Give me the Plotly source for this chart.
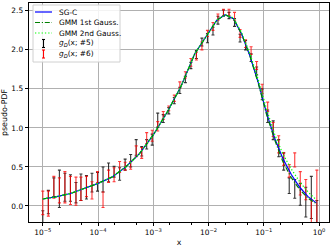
import plotly.graph_objects as go

# ---- data ----
log_x = [-5.00, -4.90, -4.80, -4.70, -4.60, -4.50, -4.40, -4.31, -4.21, -4.11,
         -4.01, -3.91, -3.81, -3.71, -3.61, -3.51, -3.41, -3.31, -3.21, -3.12,
         -3.02, -2.92, -2.82, -2.72, -2.62, -2.52, -2.42, -2.32, -2.22, -2.12,
         -2.02, -1.92, -1.83, -1.73, -1.63, -1.53, -1.43, -1.33, -1.23, -1.13,
         -1.03, -0.93, -0.83, -0.73, -0.64, -0.54, -0.44, -0.34, -0.24, -0.14,
         -0.04]
x_bins = [10 ** v for v in log_x]

g5_val = [-0.18, 0.05, 0.24, 0.22, 0.24, 0.23, 0.17, 0.24, 0.24, 0.30,
          0.31, 0.34, 0.43, 0.44, 0.41, 0.53, 0.58, 0.75, 0.70, 0.79,
          0.85, 1.10, 1.12, 1.22, 1.35, 1.48, 1.62, 1.80, 1.94, 2.10,
          2.15, 2.24, 2.38, 2.47, 2.44, 2.35, 2.15, 2.06, 1.90, 1.73,
          1.43, 1.15, 0.97, 0.74, 0.57, 0.26, 0.22, 0.15, 0.05, 0.11,
          -0.08]
g5_err = [0.12, 0.15, 0.12, 0.24, 0.18, 0.17, 0.13, 0.17, 0.15, 0.12,
          0.12, 0.16, 0.12, 0.07, 0.08, 0.07, 0.08, 0.10, 0.06, 0.06,
          0.07, 0.09, 0.05, 0.04, 0.04, 0.04, 0.04, 0.04, 0.05, 0.05,
          0.06, 0.05, 0.05, 0.04, 0.04, 0.05, 0.05, 0.06, 0.05, 0.05,
          0.07, 0.08, 0.12, 0.11, 0.11, 0.10, 0.12, 0.14, 0.19, 0.27,
          0.15]
g6_val = [0.04, 0.03, 0.24, 0.20, 0.24, 0.20, 0.19, 0.22, 0.25, 0.20,
          0.37, 0.08, 0.38, 0.40, 0.50, 0.51, 0.52, 0.70, 0.68, 0.87,
          0.90, 1.02, 1.16, 1.25, 1.38, 1.55, 1.68, 1.84, 1.92, 2.05,
          2.21, 2.30, 2.42, 2.48, 2.48, 2.43, 2.21, 2.08, 1.99, 1.80,
          1.50, 1.27, 0.98, 0.79, 0.60, 0.45, 0.59, 0.29, 0.21, -0.15,
          0.12]
g6_err = [0.15, 0.16, 0.14, 0.16, 0.20, 0.18, 0.18, 0.15, 0.13, 0.11,
          0.07, 0.10, 0.08, 0.09, 0.07, 0.05, 0.05, 0.07, 0.07, 0.07,
          0.07, 0.06, 0.05, 0.03, 0.04, 0.04, 0.04, 0.05, 0.05, 0.05,
          0.04, 0.05, 0.04, 0.04, 0.04, 0.05, 0.05, 0.05, 0.05, 0.05,
          0.06, 0.06, 0.09, 0.11, 0.08, 0.08, 0.09, 0.15, 0.13, 0.23,
          0.34]

curve_log_x = [-5.0, -4.75, -4.5, -4.25, -4.0, -3.75, -3.5, -3.25, -3.0, -2.75,
               -2.5, -2.25, -2.0, -1.85, -1.7, -1.55, -1.4, -1.25, -1.1, -0.95,
               -0.8, -0.65, -0.5, -0.35, -0.2, -0.05]
curve_x = [10 ** v for v in curve_log_x]
sgc = [0.09, 0.12, 0.16, 0.22, 0.29, 0.37, 0.50, 0.67, 0.91, 1.20,
       1.53, 1.95, 2.22, 2.38, 2.45, 2.40, 2.20, 1.92, 1.58, 1.19,
       0.86, 0.60, 0.40, 0.24, 0.12, 0.04]
gmm1 = [0.09, 0.12, 0.16, 0.22, 0.29, 0.37, 0.50, 0.67, 0.91, 1.20,
        1.53, 1.95, 2.22, 2.38, 2.45, 2.40, 2.20, 1.92, 1.57, 1.17,
        0.84, 0.56, 0.36, 0.21, 0.10, 0.03]
gmm2 = [0.09, 0.12, 0.16, 0.22, 0.29, 0.37, 0.50, 0.67, 0.91, 1.20,
        1.53, 1.95, 2.22, 2.38, 2.45, 2.41, 2.22, 1.95, 1.62, 1.24,
        0.91, 0.66, 0.47, 0.31, 0.18, 0.08]

x_tick_vals = [1e-5, 1e-4, 1e-3, 1e-2, 1e-1, 1e0]
x_tick_text = ["10<sup>−5</sup>", "10<sup>−4</sup>", "10<sup>−3</sup>",
               "10<sup>−2</sup>", "10<sup>−1</sup>", "10<sup>0</sup>"]
y_tick_vals = [0.0, 0.5, 1.0, 1.5, 2.0, 2.5]
y_tick_text = ["0.0", "0.5", "1.0", "1.5", "2.0", "2.5"]

legend_labels = ["SG-C", "GMM 1st Gauss.", "GMM 2nd Gauss.",
                 "<i>g</i><sub><i>D</i></sub>(x; #5)",
                 "<i>g</i><sub><i>D</i></sub>(x; #6)"]

FONT = "DejaVu Sans"
FS = 7.4
FS_T = 7.9
DASHDOT = "5px,1.8px,1.2px,1.8px"
DOTTED = "1.3px,2px"

fig = go.Figure()

fig.add_trace(go.Scatter(
    x=x_bins, y=g5_val, mode="markers", marker=dict(size=0, opacity=0),
    error_y=dict(type="data", array=g5_err, color="rgba(0,0,0,0.8)",
                 thickness=1.1, width=1.5),
    showlegend=False, hoverinfo="skip"))
fig.add_trace(go.Scatter(
    x=x_bins, y=g6_val, mode="markers", marker=dict(size=0, opacity=0),
    error_y=dict(type="data", array=g6_err, color="rgba(255,0,0,0.78)",
                 thickness=1.1, width=1.5),
    showlegend=False, hoverinfo="skip"))

fig.add_trace(go.Scatter(x=curve_x, y=sgc, mode="lines",
                         line=dict(color="blue", width=1.2), showlegend=False))
fig.add_trace(go.Scatter(x=curve_x, y=gmm1, mode="lines",
                         line=dict(color="green", width=1.2, dash=DASHDOT),
                         showlegend=False))
fig.add_trace(go.Scatter(x=curve_x, y=gmm2, mode="lines",
                         line=dict(color="lime", width=1.2, dash=DOTTED),
                         showlegend=False))

# ---- manual legend (pixel layout -> paper coords) ----
L, R, T, B = 29, 329, 3, 222
def px(xp):
    return (xp - L) / (R - L)
def py(yp):
    return (B - yp) / (B - T)

shapes = [dict(type="rect", xref="paper", yref="paper",
               x0=px(33), x1=px(120), y0=py(62), y1=py(5),
               line=dict(color="#d0d0d0", width=1),
               fillcolor="rgba(255,255,255,0.85)", layer="above")]
rows = [12, 22.5, 33, 43.5, 54]
styles = [("blue", "solid"), ("green", DASHDOT), ("lime", DOTTED)]
for i, (c, d) in enumerate(styles):
    shapes.append(dict(type="line", xref="paper", yref="paper",
                       x0=px(35), x1=px(52), y0=py(rows[i]), y1=py(rows[i]),
                       line=dict(color=c, width=1.2, dash=d), layer="above"))
for i, c in [(3, "black"), (4, "red")]:
    yc = rows[i]
    shapes.append(dict(type="line", xref="paper", yref="paper",
                       x0=px(43.5), x1=px(43.5), y0=py(yc + 4), y1=py(yc - 4),
                       line=dict(color=c, width=1.1), layer="above"))
    for yy in (yc - 4, yc + 4):
        shapes.append(dict(type="line", xref="paper", yref="paper",
                           x0=px(42), x1=px(45), y0=py(yy), y1=py(yy),
                           line=dict(color=c, width=1.1), layer="above"))

annotations = []
for i, lab in enumerate(legend_labels):
    annotations.append(dict(xref="paper", yref="paper", x=px(57), y=py(rows[i]),
                            text=lab, showarrow=False, xanchor="left",
                            yanchor="middle",
                            font=dict(family=FONT, size=FS, color="black")))

fig.update_layout(
    width=332, height=249,
    margin=dict(l=L, r=332 - R, t=T, b=249 - B, autoexpand=False),
    paper_bgcolor="white", plot_bgcolor="white",
    font=dict(family=FONT, size=FS, color="black"),
    shapes=shapes, annotations=annotations,
    showlegend=False,
    xaxis=dict(type="log", range=[-5.25, 0.18],
               tickvals=x_tick_vals, ticktext=x_tick_text,
               ticks="outside", ticklen=3.5, tickwidth=0.8, tickcolor="black",
               showgrid=True, gridcolor="#b0b0b0", gridwidth=0.8,
               showline=True, linecolor="black", linewidth=0.8, mirror=True,
               zeroline=False, automargin=False,
               minor=dict(ticks="outside", ticklen=2, tickwidth=0.6,
                          tickcolor="black", showgrid=False),
               title=dict(text="x", font=dict(family=FONT, size=FS_T), standoff=3)),
    yaxis=dict(range=[-0.205, 2.6],
               tickvals=y_tick_vals, ticktext=y_tick_text,
               ticks="outside", ticklen=3.5, tickwidth=0.8, tickcolor="black",
               showgrid=True, gridcolor="#b0b0b0", gridwidth=0.8,
               showline=True, linecolor="black", linewidth=0.8, mirror=True,
               zeroline=False, automargin=False,
               title=dict(text="pseudo-PDF", font=dict(family=FONT, size=FS_T),
                          standoff=3)),
)

fig.write_html("out.html", config={"displayModeBar": False},
               post_script="document.body.style.margin='0';document.body.style.overflow='hidden';")
